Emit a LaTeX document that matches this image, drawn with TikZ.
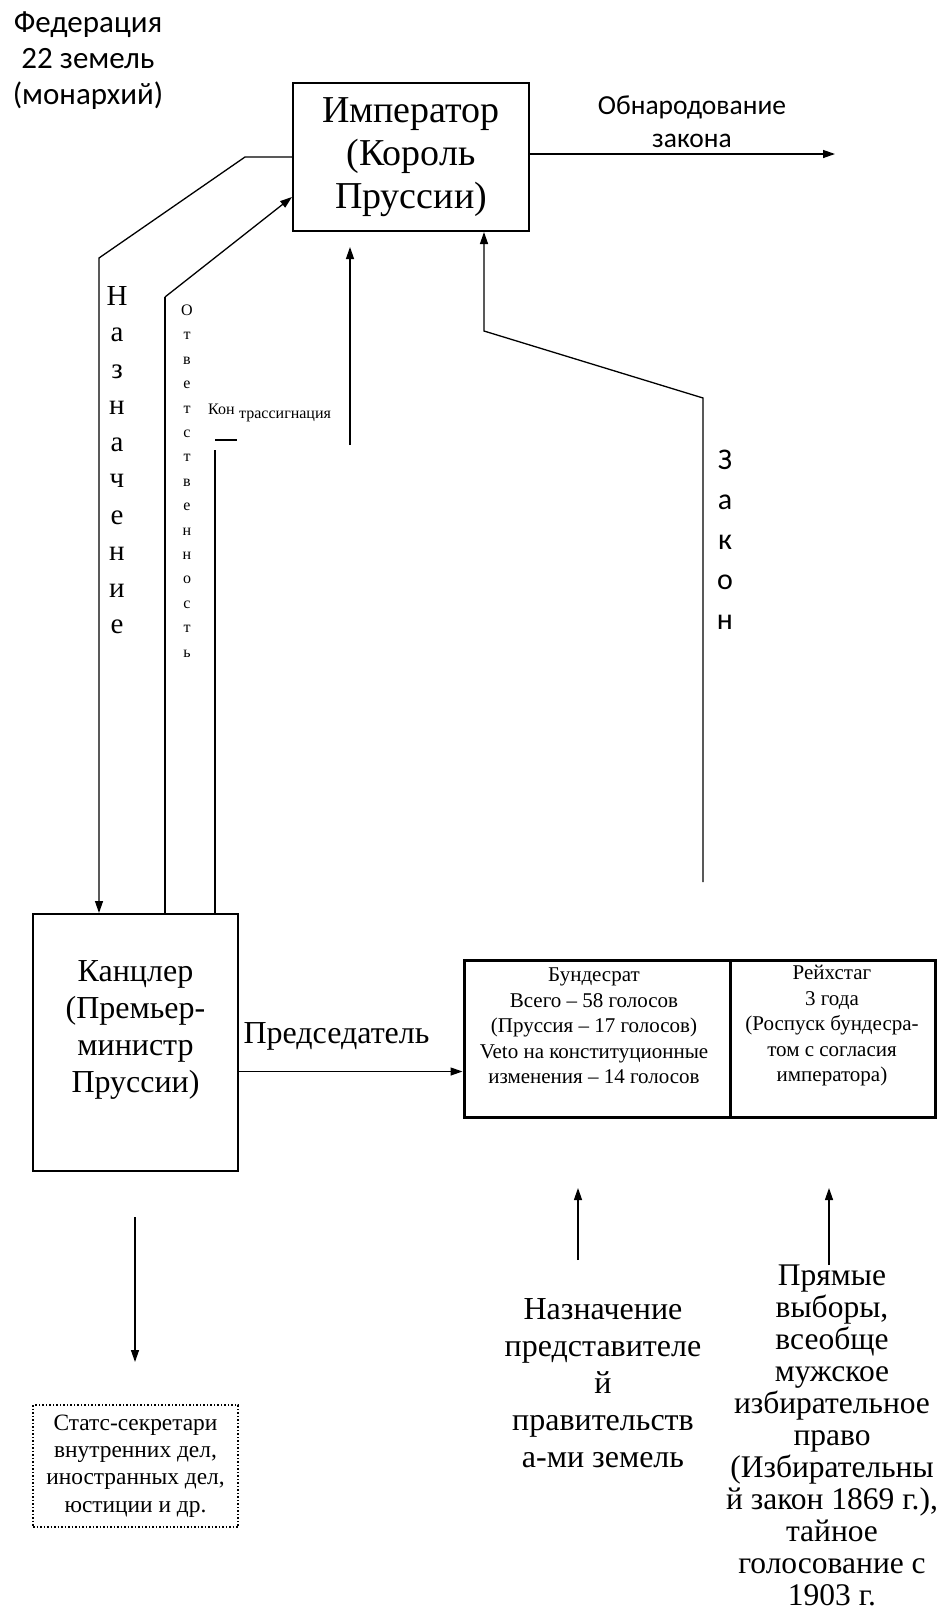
\documentclass[tikz,border=0pt]{standalone}
\usepackage{fontspec}
\setmainfont{Liberation Serif}
\newfontfamily\sansf{Carlito}
\usetikzlibrary{arrows.meta}
\begin{document}
\begin{tikzpicture}[x=1pt,y=-1pt,
  ln/.style={line width=1.3pt},
  thk/.style={line width=2.7pt},
  arr/.style={line width=1.3pt,-{Triangle[length=12pt,width=8pt]}},
  boxn/.style={draw,line width=2pt,inner sep=0pt},
  txt/.style={inner sep=0pt,align=center}]
\useasboundingbox (0,0) rectangle (947,1612);

% Emperor
\node[boxn,minimum width=236pt,minimum height=148pt,txt,font=\fontsize{38}{43}\selectfont] (imp) at (411,157) {Император\\(Король\\Пруссии)};
\node[txt,font=\sansf\fontsize{31}{36}\selectfont] (fed) at (88,61) {Федерация\\ 22 земель\\(монархий)};
\node[txt,font=\sansf\fontsize{27.5}{33}\selectfont] (obn) at (692,122) {Обнародование\\закона};
\coordinate (obnend) at (835,154);
\draw[arr] ([yshift=3pt]imp.east) -- (obnend);

% Chancellor
\node[boxn,minimum width=205pt,minimum height=257pt] (kanz) at (135.5,1042.5) {};
\node[txt,font=\fontsize{32}{37}\selectfont] (kanzt) at (135.5,1030) {Канцлер\\(Премьер-\\министр\\Пруссии)};

% Назначение
\coordinate (n1) at (245,157);
\coordinate (n2) at (99,258);
\draw[arr] (imp.west) -- (n1) -- (n2) -- (n2 |- kanz.north);
\node[txt,font=\fontsize{29}{36.5}\selectfont] (nazn) at (117,460) {Н\\а\\з\\н\\а\\ч\\е\\н\\и\\е};

% Ответственность
\coordinate (o1) at (165,297);
\draw[thk] (o1 |- kanz.north) -- (o1);
\draw[arr] (o1) -- ([yshift=-40pt]imp.west);
\node[txt,font=\fontsize{16}{24.4}\selectfont] (otv) at (187,481) {О\\т\\в\\е\\т\\с\\т\\в\\е\\н\\н\\о\\с\\т\\ь};

% Контрассигнация
\coordinate (k1) at (215,450);
\draw[thk] (k1 |- kanz.north) -- (k1);
\coordinate (k2) at (215,440);
\coordinate (k3) at (237,440);
\draw[ln] (k2) -- (k3);
\node[inner sep=0pt,anchor=base west,font=\fontsize{16}{19}\selectfont] (kon) at (208,414) {Кон};
\node[inner sep=0pt,anchor=base west,font=\fontsize{16}{19}\selectfont] (trass) at (239,418) {трассигнация};
\coordinate (ka) at (350,445);
\coordinate (kb) at (350,247);
\draw[arr] (ka) -- (kb);

% Закон
\coordinate (z1) at (703,882);
\coordinate (z2) at (703,398);
\coordinate (z3) at (484,331);
\draw[arr] (z1) -- (z2) -- (z3) -- (z3 |- imp.south);
\node[txt,font=\sansf\fontsize{30}{40}\selectfont] (zakon) at (725,540) {З\\а\\к\\о\\н};

% Parliament
\node[draw,line width=3pt,inner sep=0pt,minimum width=266pt,minimum height=157pt] (bund) at (597,1038.5) {};
\node[draw,line width=3pt,inner sep=0pt,minimum width=205pt,minimum height=157pt] (reich) at (832.5,1038.5) {};
\node[txt,font=\fontsize{21}{25.5}\selectfont] (bundt) at (594,1026) {Бундесрат\\Всего – 58 голосов\\(Пруссия – 17 голосов)\\Veto на конституционные\\изменения – 14 голосов};
\node[txt,font=\fontsize{21}{25.5}\selectfont] (reicht) at (832,1026) {Рейхстаг\\3 года\\(Роспуск бундесра-\\том с согласия\\императора)};

% Председатель
\coordinate (p1) at ([yshift=-29pt]kanz.east);
\draw[arr] (p1) -- (p1 -| bund.west);
\node[inner sep=0pt,anchor=base,font=\fontsize{32}{37}\selectfont] (pred) at (336.5,1043) {Председатель};

% Secretaries
\coordinate (d1) at (135,1217);
\coordinate (d2) at (135,1362);
\draw[arr] (d1) -- (d2);
\node[draw,dotted,line width=1.5pt,minimum width=205pt,minimum height=122pt,txt,font=\fontsize{23.4}{27.3}\selectfont] (sec) at (135.5,1466) {Статс-секретари\\внутренних дел,\\иностранных дел,\\юстиции и др.};

% Bottom arrows
\coordinate (b1) at (578,1260);
\coordinate (b2) at (578,1188);
\coordinate (r1) at (829,1265);
\coordinate (r2) at (829,1188);
\draw[arr] (b1) -- (b2);
\draw[arr] (r1) -- (r2);
\node[txt,font=\fontsize{32}{37}\selectfont] (nazb) at (603,1383) {Назначение\\представителе\\й\\правительств\\а-ми земель};
\node[txt,font=\fontsize{31.5}{32}\selectfont] (vyb) at (832,1435) {Прямые\\выборы,\\всеобще\\мужское\\избирательное\\право\\(Избирательны\\й закон 1869 г.),\\тайное\\голосование с\\1903 г.};
\end{tikzpicture}
\end{document}
